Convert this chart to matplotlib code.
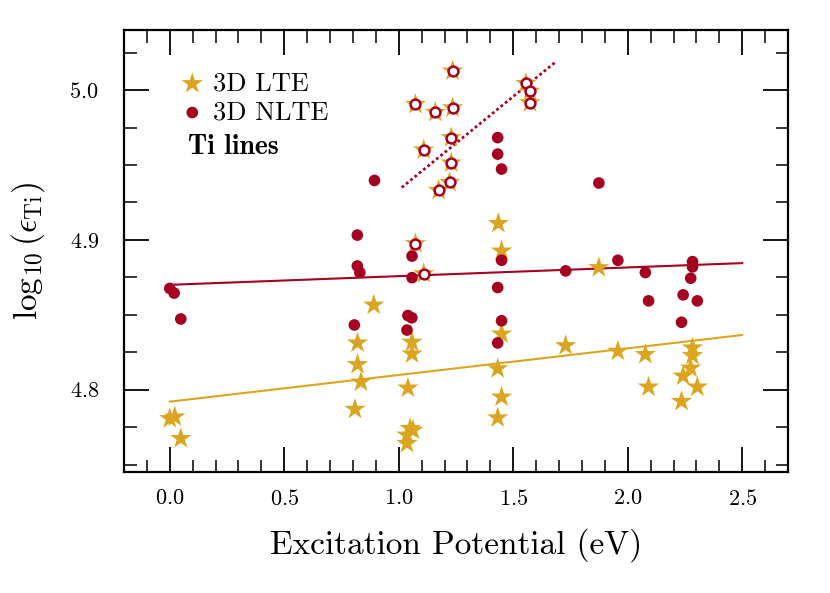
import numpy as np
import matplotlib
matplotlib.use('Agg')
import matplotlib.pyplot as plt
from matplotlib.ticker import MultipleLocator

# LaTeX-like look
plt.rcParams['font.family'] = 'serif'
plt.rcParams['font.serif'] = ['cmr10']
plt.rcParams['mathtext.fontset'] = 'cm'
plt.rcParams['axes.formatter.use_mathtext'] = True

gold = '#daa520'
red = '#a50021'

# 3D LTE abundances (stars)
lte_ep = [0.000, 0.022, 0.048, 0.891, 0.820, 0.820, 0.835, 0.809, 1.058, 1.058,
          1.040, 1.050, 1.062, 1.036, 1.036, 1.435, 1.449, 1.449, 1.432, 1.449,
          1.432, 1.729, 1.874, 1.957, 2.077, 2.091, 2.283, 2.283, 2.275, 2.242,
          2.304, 2.235]
lte_ab = [4.7807, 4.7818, 4.7674, 4.8565, 4.8312, 4.8168, 4.8051, 4.7869, 4.8317, 4.8239,
          4.8011, 4.7741, 4.7730, 4.7697, 4.7641, 4.9110, 4.8926, 4.8372, 4.8140, 4.7951,
          4.7812, 4.8294, 4.8815, 4.8257, 4.8235, 4.8018, 4.8279, 4.8228, 4.8144, 4.8091,
          4.8018, 4.7922]

# 3D NLTE abundances (filled circles)
nlte_ep = [0.000, 0.019, 0.048, 0.806, 0.819, 0.819, 0.830, 0.894, 1.058, 1.058,
           1.040, 1.057, 1.036, 1.432, 1.432, 1.449, 1.449, 1.432, 1.449, 1.432,
           1.729, 1.874, 1.957, 2.077, 2.091, 2.283, 2.283, 2.275, 2.242, 2.304,
           2.235]
nlte_ab = [4.8676, 4.8645, 4.8472, 4.8432, 4.9032, 4.8826, 4.8782, 4.9397, 4.8892, 4.8748,
           4.8495, 4.8480, 4.8398, 4.9683, 4.9573, 4.9473, 4.8864, 4.8682, 4.8460, 4.8312,
           4.8793, 4.9380, 4.8864, 4.8782, 4.8593, 4.8855, 4.8820, 4.8744, 4.8633, 4.8593,
           4.8450]

# lines with no NLTE correction (star + open ring)
same_ep = [1.235, 1.073, 1.160, 1.235, 1.229, 1.109, 1.229, 1.222, 1.174, 1.555,
           1.573, 1.573, 1.073, 1.109]
same_ab = [5.0128, 4.9905, 4.9852, 4.9882, 4.9683, 4.9601, 4.9514, 4.9384, 4.9331, 5.0045,
           4.9993, 4.9916, 4.8975, 4.8775]

# trend lines
fit_ep = [0.0, 2.5]
lte_fit = [4.792, 4.8365]
nlte_fit = [4.870, 4.8845]
dot_ep = [1.013, 1.683]
dot_ab = [4.935, 5.0186]

fig = plt.figure(figsize=(8.3, 5.93), dpi=100)
ax = fig.add_axes([0.1494, 0.204, 0.8, 0.745])

ax.plot(fit_ep, lte_fit, color=gold, lw=1.5, zorder=1)
ax.plot(fit_ep, nlte_fit, color=red, lw=1.5, zorder=1)
ax.plot(dot_ep, dot_ab, color=red, lw=2, linestyle=(0, (1, 1)), zorder=1)

ax.scatter(lte_ep, lte_ab, marker='*', s=260, color=gold, edgecolors='none',
           zorder=2, label='3D LTE')
ax.scatter(nlte_ep, nlte_ab, marker='o', s=70, color=red, edgecolors='none',
           zorder=3, label='3D NLTE')
ax.scatter(same_ep, same_ab, marker='*', s=260, color=gold, edgecolors='none', zorder=2)
ax.scatter(same_ep, same_ab, marker='o', s=50, facecolors='white', edgecolors=red,
           linewidths=1.8, zorder=4)

ax.set_xlim(-0.2, 2.7)
ax.set_ylim(4.745, 5.04)
ax.xaxis.set_major_locator(MultipleLocator(0.5))
ax.xaxis.set_minor_locator(MultipleLocator(0.1))
ax.yaxis.set_major_locator(MultipleLocator(0.1))
ax.yaxis.set_minor_locator(MultipleLocator(0.025))
ax.tick_params(which='both', direction='in', top=True, right=True, labelsize=16)
ax.tick_params(which='major', length=18, width=1.3)
ax.tick_params(which='minor', length=9, width=1.1)
ax.tick_params(axis='x', pad=12)
ax.tick_params(axis='y', pad=18)
for sp in ax.spines.values():
    sp.set_linewidth(1.6)

ax.set_xlabel('Excitation Potential (eV)', fontsize=24, labelpad=14)
ax.set_ylabel(r'$\log_{10}(\epsilon_{\rm Ti})$', fontsize=24, labelpad=16)

ax.legend(loc='upper left', bbox_to_anchor=(0.075, 0.93), frameon=False, fontsize=19,
          handlelength=0.6, handletextpad=0.5, labelspacing=0.2, scatterpoints=1,
          borderaxespad=0.0)
ax.text(0.096, 0.736, 'Ti lines', family='cmb10', transform=ax.transAxes,
        fontsize=20, va='center', ha='left')

fig.savefig('out.png', dpi=100)
